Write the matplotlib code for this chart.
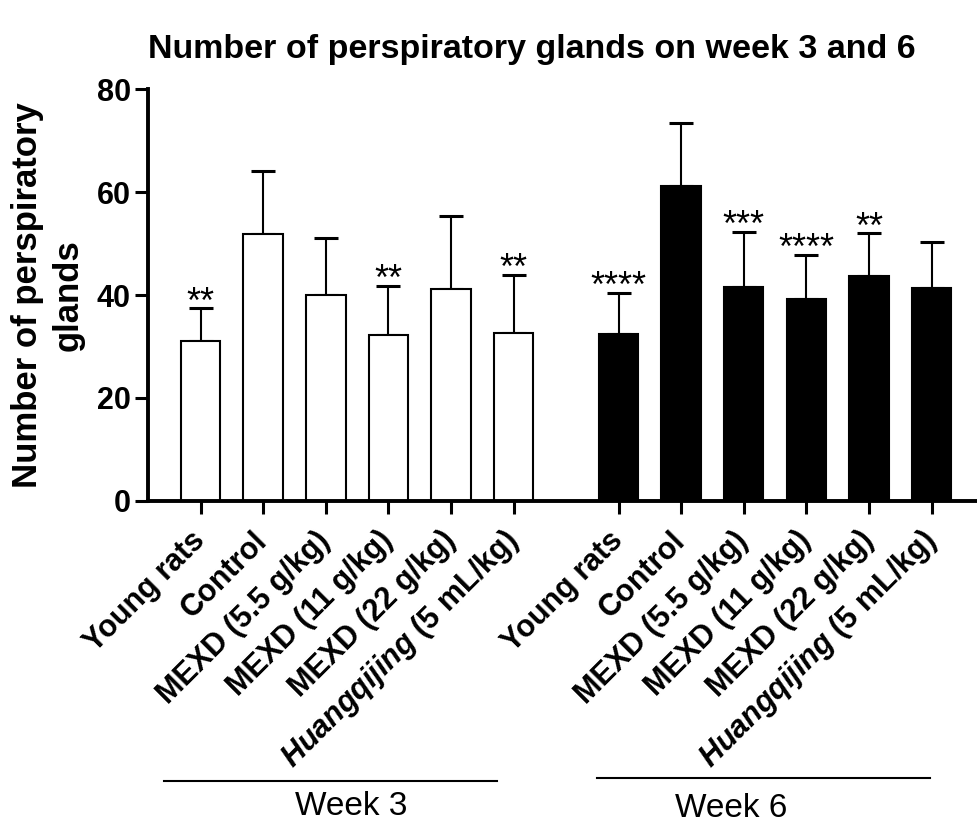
import matplotlib.pyplot as plt
import numpy as np

plt.rcParams['font.family'] = ['Liberation Sans', 'DejaVu Sans']
plt.rcParams['mathtext.fontset'] = 'custom'
plt.rcParams['mathtext.bfit'] = 'Liberation Sans:italic:bold'
plt.rcParams['mathtext.bf'] = 'Liberation Sans:bold'
plt.rcParams['mathtext.rm'] = 'Liberation Sans'

groups = ['Young rats', 'Control', 'MEXD (5.5 g/kg)', 'MEXD (11 g/kg)',
          'MEXD (22 g/kg)', r'$\mathbfit{Huangqijing}$ (5 mL/kg)']
week3_mean = [31.0, 51.9, 40.0, 32.2, 41.1, 32.6]
week3_sd = [6.4, 12.2, 11.1, 9.5, 14.2, 11.3]
week3_stars = ['**', '', '', '**', '', '**']
week6_mean = [32.4, 61.2, 41.5, 39.2, 43.7, 41.3]
week6_sd = [8.0, 12.2, 10.8, 8.6, 8.3, 9.0]
week6_stars = ['****', '', '***', '****', '**', '']

x3 = np.arange(6)
x6 = np.arange(6) + 6.675
w = 0.63

fig = plt.figure(figsize=(9.77, 8.23), dpi=100)
ax = fig.add_axes([0.1518, 0.3916, 0.8482, 0.4999])

ax.bar(x3, week3_mean, w, color='white', edgecolor='black', linewidth=1.5, zorder=2)
ax.bar(x6, week6_mean, w, color='black', edgecolor='black', linewidth=1.5, zorder=2)
ax.errorbar(x3, week3_mean, yerr=[np.zeros(6), week3_sd], fmt='none',
            ecolor='black', elinewidth=1.5, capsize=8.3, capthick=2.2, zorder=1)
ax.errorbar(x6, week6_mean, yerr=[np.zeros(6), week6_sd], fmt='none',
            ecolor='black', elinewidth=1.5, capsize=8.3, capthick=2.2, zorder=1)

for xs, m, s, st in [(x3, week3_mean, week3_sd, week3_stars),
                     (x6, week6_mean, week6_sd, week6_stars)]:
    for xi, mi, si, t in zip(xs, m, s, st):
        if t:
            ax.annotate(t, (xi, mi + si), xytext=(0, -3), textcoords='offset points',
                        ha='center', va='baseline', fontsize=26)

ax.set_ylim(0, 80)
ax.set_xlim(-0.835, 12.4)
ax.set_yticks([0, 20, 40, 60, 80])
ax.set_xticks(np.concatenate([x3, x6]))
ax.set_xticklabels(groups + groups, rotation=45, ha='right', va='center',
                   rotation_mode='anchor', fontsize=22, fontweight='bold')
for lab in ax.get_yticklabels():
    lab.set_fontweight('bold')
ax.tick_params(axis='y', labelsize=22, width=2.2, length=9.5, pad=3)
ax.tick_params(axis='x', width=2.2, length=9.5, pad=16)
for side in ['top', 'right']:
    ax.spines[side].set_visible(False)
for side in ['left', 'bottom']:
    ax.spines[side].set_linewidth(2.8)

ax.set_ylabel('Number of perspiratory\nglands', fontsize=25, fontweight='bold',
              linespacing=1.3, labelpad=9)
fig.text(0.544, 0.940, 'Number of perspiratory glands on week 3 and 6',
         fontsize=24.5, fontweight='bold', ha='center', va='center')

trans = ax.get_xaxis_transform()
ax.plot([-0.59, 4.74], [-0.681, -0.681], color='black', lw=1.5,
        transform=trans, clip_on=False)
ax.plot([6.335, 11.65], [-0.674, -0.674], color='black', lw=1.5,
        transform=trans, clip_on=False)
ax.text(2.40, -0.705, 'Week 3', transform=trans, ha='center', va='top', fontsize=24)
ax.text(8.47, -0.710, 'Week 6', transform=trans, ha='center', va='top', fontsize=24)

fig.savefig('out.png', dpi=100)
